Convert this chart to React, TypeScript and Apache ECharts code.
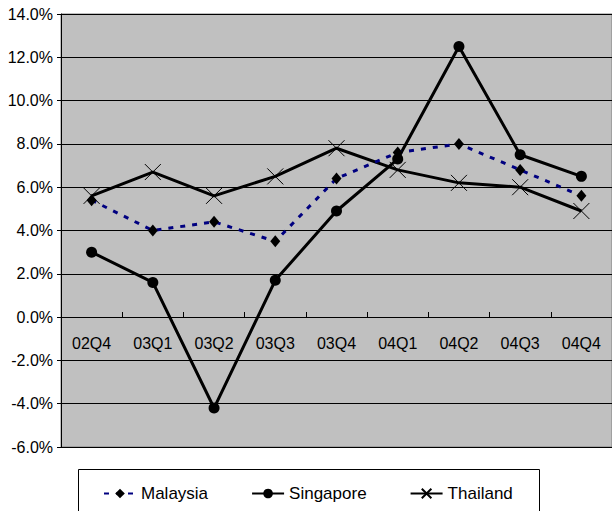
import React, { useEffect, useRef } from "react";
import * as echarts from "echarts";

const categories = ["02Q4", "03Q1", "03Q2", "03Q3", "03Q4", "04Q1", "04Q2", "04Q3", "04Q4"];
const malaysia = [5.4, 4.0, 4.4, 3.5, 6.4, 7.6, 8.0, 6.8, 5.6];
const singapore = [3.0, 1.6, -4.2, 1.7, 4.9, 7.3, 12.5, 7.5, 6.5];
const thailand = [5.6, 6.7, 5.6, 6.5, 7.8, 6.8, 6.2, 6.0, 4.9];

const FONT = "'Liberation Sans', Arial, sans-serif";

export default function App() {
  const ref = useRef<HTMLDivElement>(null);
  useEffect(() => {
    if (!ref.current) return;
    const chart = echarts.init(ref.current, undefined, { renderer: "svg" });
    chart.setOption({
      animation: false,
      backgroundColor: "#ffffff",
      textStyle: { fontFamily: FONT },
      grid: {
        left: 61,
        top: 14,
        width: 558,
        height: 433,
        show: true,
        backgroundColor: "#C0C0C0",
        borderColor: "#808080",
        borderWidth: 1,
      },
      xAxis: {
        type: "category",
        data: categories,
        boundaryGap: true,
        position: "bottom",
        offset: -130,
        axisLine: { show: true, onZero: false, lineStyle: { color: "#000", width: 1 } },
        axisTick: { show: true, inside: true, length: 5, lineStyle: { color: "#000" } },
        axisLabel: { color: "#000", fontSize: 16, fontFamily: FONT, margin: 18 },
        splitLine: { show: false },
      },
      yAxis: {
        type: "value",
        min: -6,
        max: 14,
        interval: 2,
        axisLine: { show: true, lineStyle: { color: "#000", width: 1 } },
        axisTick: { show: true, length: 4, lineStyle: { color: "#000" } },
        axisLabel: {
          color: "#000",
          fontSize: 16,
          fontFamily: FONT,
          margin: 8,
          formatter: (v: number) => v.toFixed(1) + "%",
        },
        splitLine: { show: true, lineStyle: { color: "#000", width: 1 } },
      },
      legend: {
        left: 103,
        top: 485,
        padding: 0,
        itemWidth: 32,
        itemHeight: 12,
        itemGap: 43,
        textStyle: { color: "#000", fontSize: 17, fontFamily: FONT },
        data: ["Malaysia", "Singapore", "Thailand"],
      },
      graphic: [
        {
          type: "rect",
          shape: { x: 78.5, y: 469.5, width: 461, height: 60 },
          style: { fill: "none", stroke: "#000", lineWidth: 1 },
          z: 0,
        },
      ],
      series: [
        {
          name: "Malaysia",
          type: "line",
          data: malaysia,
          symbol: "diamond",
          symbolSize: [10, 12],
          itemStyle: { color: "#000" },
          lineStyle: { color: "#000080", width: 3, type: [5, 7] },
          z: 3,
        },
        {
          name: "Singapore",
          type: "line",
          data: singapore,
          symbol: "circle",
          symbolSize: 11,
          itemStyle: { color: "#000" },
          lineStyle: { color: "#000", width: 3 },
          z: 2,
        },
        {
          name: "Thailand",
          type: "line",
          data: thailand,
          symbol: "path://M0,0L10,10M10,0L0,10",
          symbolSize: 16,
          itemStyle: { color: "none", borderColor: "#000", borderWidth: 1 },
          lineStyle: { color: "#000", width: 3 },
          z: 2,
        },
      ],
    });
    return () => chart.dispose();
  }, []);
  return (
    <div
      ref={ref}
      style={{ position: "fixed", left: 0, top: 0, width: 612, height: 511 }}
    />
  );
}
